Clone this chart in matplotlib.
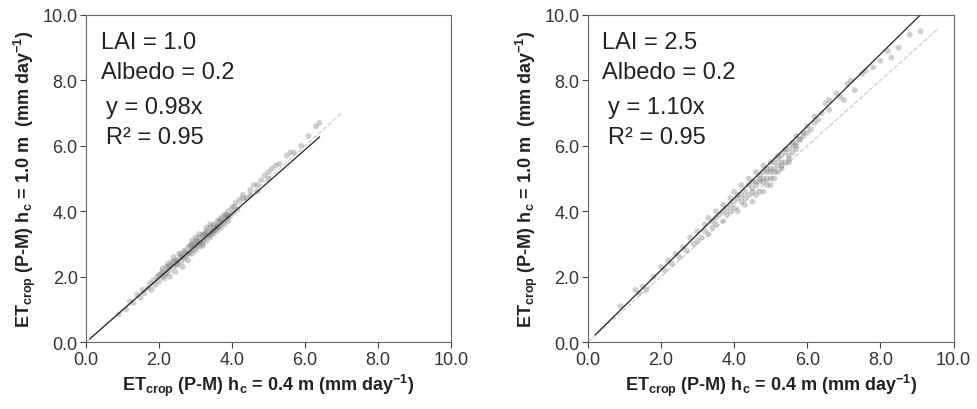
import numpy as np
import matplotlib
matplotlib.use("Agg")
import matplotlib.pyplot as plt

plt.rcParams['font.family'] = ['Liberation Sans', 'DejaVu Sans']
plt.rcParams['mathtext.fontset'] = 'custom'
plt.rcParams['mathtext.bf'] = 'Liberation Sans:bold'
plt.rcParams['mathtext.rm'] = 'Liberation Sans:bold'
plt.rcParams['mathtext.default'] = 'bf'

# ---- data ----
# left panel: LAI = 1.0
x_lai1 = [0.9, 1.1, 1.2, 1.3, 1.4, 1.5, 1.55, 1.6, 1.7, 1.75, 1.8, 1.85, 1.9, 1.95, 2.0, 2.05,
          2.1, 2.1, 2.15, 2.2, 2.2, 2.25, 2.3, 2.3, 2.35, 2.4, 2.4, 2.45, 2.5, 2.5, 2.55, 2.6,
          2.6, 2.65, 2.7, 2.7, 2.75, 2.8, 2.8, 2.85, 2.9, 2.9, 2.95, 3.0, 3.0, 3.05, 3.1, 3.1,
          3.15, 3.2, 3.2, 3.25, 3.3, 3.3, 3.35, 3.4, 3.4, 3.45, 3.5, 3.5, 3.55, 3.6, 3.6, 3.65,
          3.7, 3.7, 3.75, 3.8, 3.8, 3.85, 3.9, 3.9, 3.95, 4.0, 4.05, 4.1, 4.15, 4.2, 4.3, 4.4,
          4.5, 4.6, 4.7, 4.8, 4.9, 5.0, 5.1, 5.3, 5.5, 5.7, 5.9, 6.1, 6.3, 6.4,
          2.0, 2.1, 2.2, 2.3, 2.4, 2.5, 2.6, 2.7, 2.8, 2.9, 3.0, 3.1, 3.2, 3.3, 3.4, 3.5,
          3.6, 3.7, 3.8, 3.9, 2.25, 2.45, 2.65, 2.85, 3.05, 3.25, 3.45, 3.65, 3.85, 4.05,
          3.0, 3.2, 3.4, 3.6, 3.3, 3.5, 2.9, 3.1, 4.3, 4.5, 4.7, 5.0, 5.2, 5.6]
y_lai1 = [0.85, 1.0, 1.25, 1.2, 1.45, 1.35, 1.6, 1.5, 1.65, 1.8, 1.6, 1.9, 1.75, 2.0, 1.85, 2.1,
          2.0, 2.25, 1.95, 2.3, 2.1, 2.4, 2.2, 2.0, 2.45, 2.3, 2.6, 2.15, 2.5, 2.35, 2.7, 2.45,
          2.6, 2.3, 2.8, 2.55, 2.65, 2.9, 2.5, 2.75, 3.0, 2.7, 2.85, 3.1, 2.8, 2.95, 3.2, 2.9,
          3.05, 3.3, 2.95, 3.15, 3.4, 3.1, 3.25, 3.5, 3.2, 3.35, 3.6, 3.3, 3.45, 3.7, 3.4, 3.55,
          3.8, 3.5, 3.65, 3.9, 3.6, 3.75, 4.0, 3.7, 3.85, 4.1, 3.95, 4.25, 4.05, 4.35, 4.5, 4.4,
          4.65, 4.8, 4.6, 4.95, 5.1, 5.0, 5.3, 5.45, 5.7, 5.8, 6.0, 6.3, 6.6, 6.7,
          2.05, 2.15, 2.1, 2.35, 2.45, 2.4, 2.7, 2.75, 2.7, 2.95, 3.0, 3.05, 3.25, 3.35, 3.3, 3.55,
          3.55, 3.75, 3.85, 3.85, 2.3, 2.5, 2.6, 2.95, 3.1, 3.3, 3.4, 3.7, 3.9, 4.15,
          3.2, 3.0, 3.6, 3.5, 3.5, 3.4, 3.1, 3.3, 4.4, 4.5, 4.8, 5.2, 5.4, 5.8]

# right panel: LAI = 2.5
x_lai25 = [0.9, 1.3, 1.4, 1.5, 1.6, 1.8, 2.0, 2.1, 2.2, 2.3, 2.4, 2.5, 2.6, 2.7, 2.8, 2.9,
           3.0, 3.1, 3.2, 3.3, 3.3, 3.4, 3.5, 3.5, 3.6, 3.7, 3.7, 3.8, 3.8, 3.9, 3.9, 4.0,
           4.0, 4.1, 4.1, 4.2, 4.2, 4.3, 4.3, 4.4, 4.4, 4.5, 4.5, 4.6, 4.6, 4.6, 4.7, 4.7,
           4.8, 4.8, 4.8, 4.9, 4.9, 5.0, 5.0, 5.0, 5.1, 5.1, 5.2, 5.2, 5.3, 5.3, 5.4, 5.4,
           5.5, 5.5, 5.6, 5.6, 5.7, 5.7, 5.8, 5.9, 6.0, 6.1, 6.2, 6.4, 6.5, 6.6, 6.8, 7.0,
           7.1, 7.3, 7.5, 7.8, 8.0, 8.2, 8.5, 8.8, 9.1,
           4.0, 4.2, 4.4, 4.5, 4.6, 4.7, 4.8, 4.9, 5.0, 5.1, 5.2, 5.3, 5.4, 5.5, 5.6, 5.7,
           5.8, 5.9, 6.0, 4.3, 4.5, 4.7, 4.9, 5.1, 5.3, 5.5, 5.7, 5.2, 5.0, 4.8, 3.5, 3.7,
           3.9, 4.1, 3.2, 3.4, 3.0, 6.2, 6.3, 6.6, 6.9, 7.2, 7.6, 8.3]
y_lai25 = [1.1, 1.6, 1.5, 1.7, 1.6, 2.0, 2.3, 2.2, 2.5, 2.4, 2.7, 2.6, 2.9, 2.8, 3.2, 3.0,
           3.4, 3.2, 3.6, 3.3, 3.8, 3.5, 4.0, 3.6, 3.9, 4.2, 3.7, 4.1, 3.9, 4.4, 4.0, 4.6,
           4.1, 4.4, 4.0, 4.8, 4.3, 4.6, 4.2, 5.0, 4.5, 4.7, 4.3, 5.2, 4.8, 4.5, 5.0, 4.6,
           5.4, 4.9, 4.6, 5.2, 4.8, 5.5, 5.0, 4.8, 5.3, 5.0, 5.7, 5.2, 5.5, 5.3, 5.9, 5.5,
           5.7, 5.5, 6.1, 5.8, 6.0, 6.3, 6.2, 6.4, 6.6, 6.5, 6.9, 7.0, 7.3, 7.1, 7.6, 7.4,
           7.9, 7.7, 8.2, 8.4, 8.6, 8.9, 9.0, 9.4, 9.5,
           4.3, 4.5, 4.8, 4.9, 4.9, 5.1, 5.2, 5.3, 5.3, 5.5, 5.6, 5.7, 5.8, 5.9, 6.0, 6.1,
           6.2, 6.3, 6.4, 4.4, 4.6, 4.9, 5.0, 5.2, 5.4, 5.6, 5.9, 5.4, 5.2, 5.0, 3.8, 4.0,
           4.2, 4.5, 3.4, 3.7, 3.1, 6.7, 6.8, 7.4, 7.5, 8.0, 8.3, 8.7]

panels = [
    dict(x=x_lai1, y=y_lai1, slope=0.98, fit_range=(0.1, 6.4), one_range=(0.0, 7.0),
         lai="LAI = 1.0", eq="y = 0.98x", r2="R² = 0.95"),
    dict(x=x_lai25, y=y_lai25, slope=1.10, fit_range=(0.2, 9.1), one_range=(0.0, 9.6),
         lai="LAI = 2.5", eq="y = 1.10x", r2="R² = 0.95"),
]

fig = plt.figure(figsize=(9.78, 4.1), dpi=100)
ax_pos = [[0.088, 0.163, 0.373, 0.798], [0.601, 0.163, 0.374, 0.798]]

for p, pos in zip(panels, ax_pos):
    ax = fig.add_axes(pos)
    ax.scatter(p['x'], p['y'], s=18, color='#777777', alpha=0.35, edgecolors='none', zorder=2)
    # 1:1 line
    ax.plot(p['one_range'], p['one_range'], color='#cccccc', lw=0.9, ls='--', zorder=1)
    # regression line
    xf = np.array(p['fit_range'])
    ax.plot(xf, p['slope'] * xf, color='#222222', lw=0.9, zorder=3)

    ax.set_xlim(0, 10)
    ax.set_ylim(0, 10)
    ticks = np.arange(0, 10.1, 2)
    ax.set_xticks(ticks)
    ax.set_yticks(ticks)
    ax.set_xticklabels([f"{t:.1f}" for t in ticks])
    ax.set_yticklabels([f"{t:.1f}" for t in ticks])
    ax.tick_params(direction='out', length=4, width=0.8, labelsize=13, colors='#444444',
                   labelcolor='#333333', pad=2)
    for s in ax.spines.values():
        s.set_color('#666666')
        s.set_linewidth(0.8)

    ax.set_xlabel(r"ET$_{crop}$ (P-M) h$_c$ = 0.4 m (mm day$^{-1}$)", fontsize=13,
                  fontweight='bold', color='#222222', labelpad=3)
    ax.set_ylabel(r"ET$_{crop}$ (P-M) h$_c$ = 1.0 m  (mm day$^{-1}$)", fontsize=13,
                  fontweight='bold', color='#222222', labelpad=3)

    ax.text(0.4, 9.17, p['lai'], fontsize=17, va='center', ha='left', color='#222222')
    ax.text(0.4, 8.26, "Albedo = 0.2", fontsize=17, va='center', ha='left', color='#222222')
    ax.text(0.55, 7.2, p['eq'], fontsize=17, va='center', ha='left', color='#222222')
    ax.text(0.55, 6.27, p['r2'], fontsize=17, va='center', ha='left', color='#222222')

fig.savefig("out.png", dpi=100)
